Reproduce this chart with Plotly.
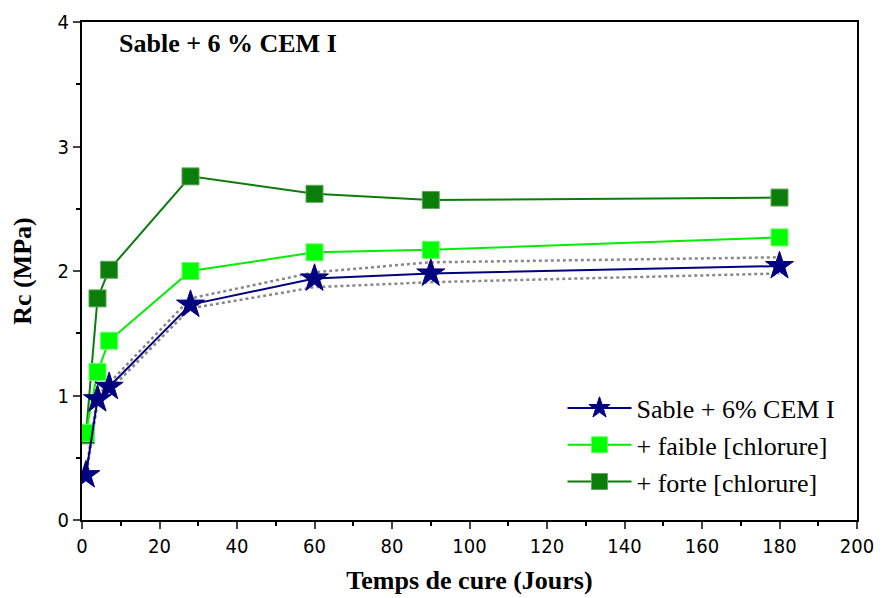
import plotly.graph_objects as go

days = [1, 4, 7, 28, 60, 90, 180]
rc_ref = [0.36, 0.97, 1.07, 1.73, 1.94, 1.98, 2.04]
rc_ref_upper = [0.38, 1.00, 1.10, 1.78, 1.99, 2.07, 2.11]
rc_ref_lower = [0.34, 0.94, 1.04, 1.70, 1.87, 1.91, 1.98]
rc_faible = [0.70, 1.19, 1.44, 2.00, 2.15, 2.17, 2.27]
rc_forte = [0.68, 1.78, 2.01, 2.76, 2.62, 2.57, 2.59]

names = ["Sable + 6% CEM I", "+ faible [chlorure]", "+ forte [chlorure]"]

fig = go.Figure()
for ys in (rc_ref_upper, rc_ref_lower):
    fig.add_trace(go.Scatter(x=days, y=ys, mode="lines", showlegend=False,
                             line=dict(color="#888888", width=2.5, dash="dot"),
                             hoverinfo="skip"))
fig.add_trace(go.Scatter(x=days, y=rc_forte, mode="lines+markers", name=names[2],
                         line=dict(color="#0a7d0a", width=2),
                         marker=dict(symbol="square", size=17, color="#0a7d0a",
                                     line=dict(color="#5aa85a", width=1))))
fig.add_trace(go.Scatter(x=days, y=rc_faible, mode="lines+markers", name=names[1],
                         line=dict(color="#00ee00", width=2),
                         marker=dict(symbol="square", size=17, color="#00ff00",
                                     line=dict(color="#66ff66", width=1))))
fig.add_trace(go.Scatter(x=days, y=rc_ref, mode="lines+markers", name=names[0],
                         line=dict(color="#000080", width=2),
                         marker=dict(symbol="star", size=21, color="#000080",
                                     line=dict(color="#000080", width=1))))

tick_font = dict(family="Liberation Sans Narrow, DejaVu Sans Condensed, Liberation Sans",
                 size=20, color="black")
fig.update_layout(
    width=885, height=598,
    plot_bgcolor="white", paper_bgcolor="white",
    margin=dict(l=74, r=36, t=14, b=86),
    font=dict(family="Liberation Sans", size=18, color="black"),
    legend=dict(x=0.62, y=0.272, xanchor="left", yanchor="top",
                traceorder="reversed",
                font=dict(family="Liberation Serif, Times New Roman, serif", size=26, color="black"),
                bgcolor="rgba(0,0,0,0)", itemwidth=64, tracegroupgap=0),
    showlegend=True,
)
fig.update_xaxes(range=[0, 200], tick0=0, dtick=20, ticks="outside", ticklen=7,
                 tickwidth=2, showline=True, linewidth=2, linecolor="black",
                 mirror=True, showgrid=False, zeroline=False, automargin=False,
                 tickfont=tick_font,
                 minor=dict(tick0=0, dtick=10, ticks="outside", ticklen=4,
                            tickwidth=1.5, tickcolor="black", showgrid=False),
                 title=dict(text="<b>Temps de cure (Jours)</b>", standoff=14,
                            font=dict(family="Liberation Serif", size=26)))
fig.update_yaxes(range=[0, 4], tick0=0, dtick=1, ticks="outside", ticklen=7,
                 tickwidth=2, showline=True, linewidth=2, linecolor="black",
                 mirror=True, showgrid=False, zeroline=False, automargin=False,
                 tickfont=tick_font,
                 minor=dict(tick0=0, dtick=0.5, ticks="outside", ticklen=4,
                            tickwidth=1.5, tickcolor="black", showgrid=False),
                 title=dict(text="<b>Rc (MPa)</b>", standoff=20,
                            font=dict(family="Liberation Serif", size=26)))
fig.add_annotation(text="<b>Sable + 6 % CEM I</b>", xref="paper", yref="paper",
                   x=0.045, y=0.99, xanchor="left", yanchor="top", showarrow=False,
                   font=dict(family="Liberation Serif", size=26, color="black"))
fig.write_html("out.html")
